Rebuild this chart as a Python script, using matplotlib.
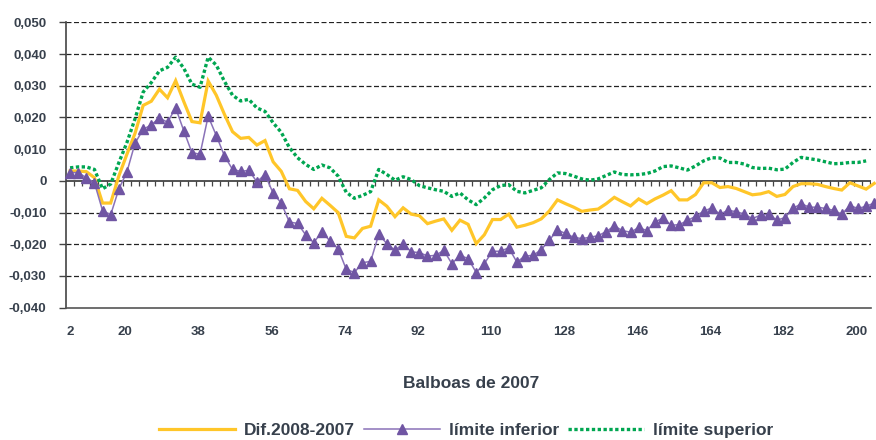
import numpy as np
import matplotlib
matplotlib.use("Agg")
import matplotlib.pyplot as plt
from matplotlib import font_manager

# ---------------- data ----------------
x_labels = ['2', '20', '38', '56', '74', '92', '110', '128', '146', '164', '182', '200']
y_labels = ['-0,040', '-0,030', '-0,020', '-0,010', '0', '0,010', '0,020', '0,030', '0,040', '0,050']
y_ticks = [-0.04, -0.03, -0.02, -0.01, 0.0, 0.01, 0.02, 0.03, 0.04, 0.05]

dif = [0.0031, 0.0031, 0.0029, 0.0010, -0.0070, -0.0070, 0.0015, 0.0084, 0.0150, 0.0238,
       0.0251, 0.0289, 0.0262, 0.0316, 0.0250, 0.0187, 0.0183, 0.0315, 0.0270, 0.0210,
       0.0155, 0.0134, 0.0137, 0.0113, 0.0127, 0.0060, 0.0030, -0.0025, -0.0030, -0.0065,
       -0.0088, -0.0055, -0.0077, -0.0100, -0.0175, -0.0180, -0.0150, -0.0143, -0.0060, -0.0080,
       -0.0113, -0.0085, -0.0105, -0.0110, -0.0135, -0.0127, -0.0120, -0.0156, -0.0124, -0.0137,
       -0.0198, -0.0170, -0.0122, -0.0122, -0.0105, -0.0146, -0.0140, -0.0132, -0.0120, -0.0095,
       -0.0060, -0.0072, -0.0083, -0.0096, -0.0092, -0.0089, -0.0072, -0.0052, -0.0066, -0.0079,
       -0.0057, -0.0072, -0.0057, -0.0045, -0.0031, -0.0060, -0.0060, -0.0043, -0.0006, -0.0006,
       -0.0021, -0.0018, -0.0024, -0.0034, -0.0044, -0.0041, -0.0034, -0.0049, -0.0043, -0.0018,
       -0.0009, -0.0009, -0.0011, -0.0018, -0.0024, -0.0029, -0.0006, -0.0016, -0.0026, -0.0008]

lim_inf = [0.0026, 0.0026, 0.0010, -0.0006, -0.0094, -0.0107, -0.0026, 0.0028, 0.0119, 0.0162,
           0.0177, 0.0198, 0.0185, 0.0230, 0.0158, 0.0089, 0.0084, 0.0204, 0.0143, 0.0079,
           0.0036, 0.0030, 0.0033, -0.0003, 0.0020, -0.0039, -0.0070, -0.0130, -0.0134, -0.0170,
           -0.0195, -0.0160, -0.0190, -0.0214, -0.0279, -0.0289, -0.0258, -0.0254, -0.0169, -0.0198,
           -0.0219, -0.0198, -0.0224, -0.0226, -0.0237, -0.0235, -0.0219, -0.0261, -0.0235, -0.0245,
           -0.0289, -0.0261, -0.0222, -0.0222, -0.0211, -0.0256, -0.0237, -0.0235, -0.0217, -0.0187,
           -0.0155, -0.0166, -0.0178, -0.0182, -0.0178, -0.0173, -0.0160, -0.0142, -0.0157, -0.0162,
           -0.0147, -0.0157, -0.0130, -0.0117, -0.0140, -0.0138, -0.0125, -0.0112, -0.0096, -0.0085,
           -0.0105, -0.0093, -0.0097, -0.0105, -0.0119, -0.0108, -0.0105, -0.0124, -0.0116, -0.0087,
           -0.0072, -0.0083, -0.0083, -0.0087, -0.0093, -0.0105, -0.0078, -0.0087, -0.0080, -0.0070]

lim_sup = [0.0041, 0.0044, 0.0044, 0.0036, -0.0025, -0.0010, 0.0057, 0.0121, 0.0196, 0.0280,
           0.0310, 0.0347, 0.0358, 0.0390, 0.0355, 0.0305, 0.0295, 0.0390, 0.0365, 0.0314,
           0.0270, 0.0252, 0.0257, 0.0230, 0.0219, 0.0183, 0.0153, 0.0105, 0.0073, 0.0052,
           0.0036, 0.0050, 0.0041, 0.0015, -0.0036, -0.0055, -0.0046, -0.0034, 0.0036, 0.0020,
           0.0002, 0.0013, 0.0004, -0.0015, -0.0022, -0.0028, -0.0033, -0.0049, -0.0038, -0.0060,
           -0.0075, -0.0054, -0.0028, -0.0015, -0.0012, -0.0033, -0.0038, -0.0030, -0.0022, 0.0004,
           0.0025, 0.0023, 0.0015, 0.0006, 0.0002, 0.0006, 0.0017, 0.0028, 0.0020, 0.0019,
           0.0020, 0.0023, 0.0031, 0.0045, 0.0047, 0.0041, 0.0034, 0.0047, 0.0063, 0.0073,
           0.0072, 0.0058, 0.0058, 0.0053, 0.0042, 0.0039, 0.0040, 0.0035, 0.0037, 0.0058,
           0.0074, 0.0070, 0.0066, 0.0060, 0.0054, 0.0055, 0.0058, 0.0058, 0.0063]

# ---------------- style ----------------
avail = {f.name for f in font_manager.fontManager.ttflist}
fam = [f for f in ['Liberation Sans Narrow', 'Liberation Sans', 'DejaVu Sans'] if f in avail]
plt.rcParams['font.family'] = fam
txt_col = '#37404c'

fig = plt.figure(figsize=(8.76, 4.40), dpi=100)
ax = fig.add_axes([66 / 876, 1 - 307.7 / 440, 805 / 876, 285.4 / 440])

xi_d = np.arange(len(dif))
xi_i = np.arange(len(lim_inf))
xi_s = np.arange(len(lim_sup))

ax.set_xlim(-0.5, 98.6)
ax.set_ylim(-0.04, 0.05)

# grid lines
for yv in y_ticks:
    if yv == 0 or yv == -0.04:
        continue
    ax.axhline(yv, color='#222222', lw=0.9, ls=(0, (4, 2)), zorder=1)
ax.axhline(0, color='#444444', lw=1.3, zorder=2)
ax.vlines(np.arange(0.5, 98.6, 1.0), -0.0017, 0, color='#444444', lw=0.9, zorder=2)

ax.plot(xi_d, dif, color='#FFC629', lw=2.3, zorder=4, clip_on=False,
        label='Dif.2008-2007', solid_joinstyle='miter')
ax.plot(xi_i, lim_inf, color='#8A72B8', lw=1.1, marker='^', ms=6.5,
        mfc='#7055A3', mec='#7055A3', zorder=5, clip_on=False, label='límite inferior')
ax.plot(xi_s, lim_sup, color='#00A651', lw=2.4, ls=(0, (1, 0.75)), zorder=3,
        clip_on=False, label='límite superior')

# axes
for s in ['top', 'right']:
    ax.spines[s].set_visible(False)
ax.spines['left'].set_color('#444444')
ax.spines['left'].set_linewidth(1.2)
ax.spines['bottom'].set_color('#555555')
ax.spines['bottom'].set_linewidth(1.2)

ax.set_yticks(y_ticks)
ax.set_yticklabels(y_labels)
ax.tick_params(axis='y', direction='out', length=5, width=1, color='#444444',
               pad=9, labelsize=9.5, labelcolor=txt_col)
xpos = [0] + [6.8 + 9 * k for k in range(len(x_labels) - 1)]
ax.set_xticks(xpos)
ax.set_xticklabels(x_labels)
ax.tick_params(axis='x', length=0, pad=13, labelsize=9.5, labelcolor=txt_col)
for lab in ax.get_xticklabels() + ax.get_yticklabels():
    lab.set_fontweight('bold')

fig.text(471 / 876, 1 - 383 / 440, 'Balboas de 2007', ha='center', va='center',
         fontsize=12.5, fontweight='bold', color=txt_col)

leg = fig.legend(loc='center', bbox_to_anchor=(466 / 876, 1 - 430 / 440), ncol=3,
                 frameon=False, fontsize=12.5, handlelength=4.4, handletextpad=0.5,
                 columnspacing=0.5, numpoints=1)
for t in leg.get_texts():
    t.set_color(txt_col)
    t.set_fontweight('bold')

fig.savefig('out.png', dpi=100)
